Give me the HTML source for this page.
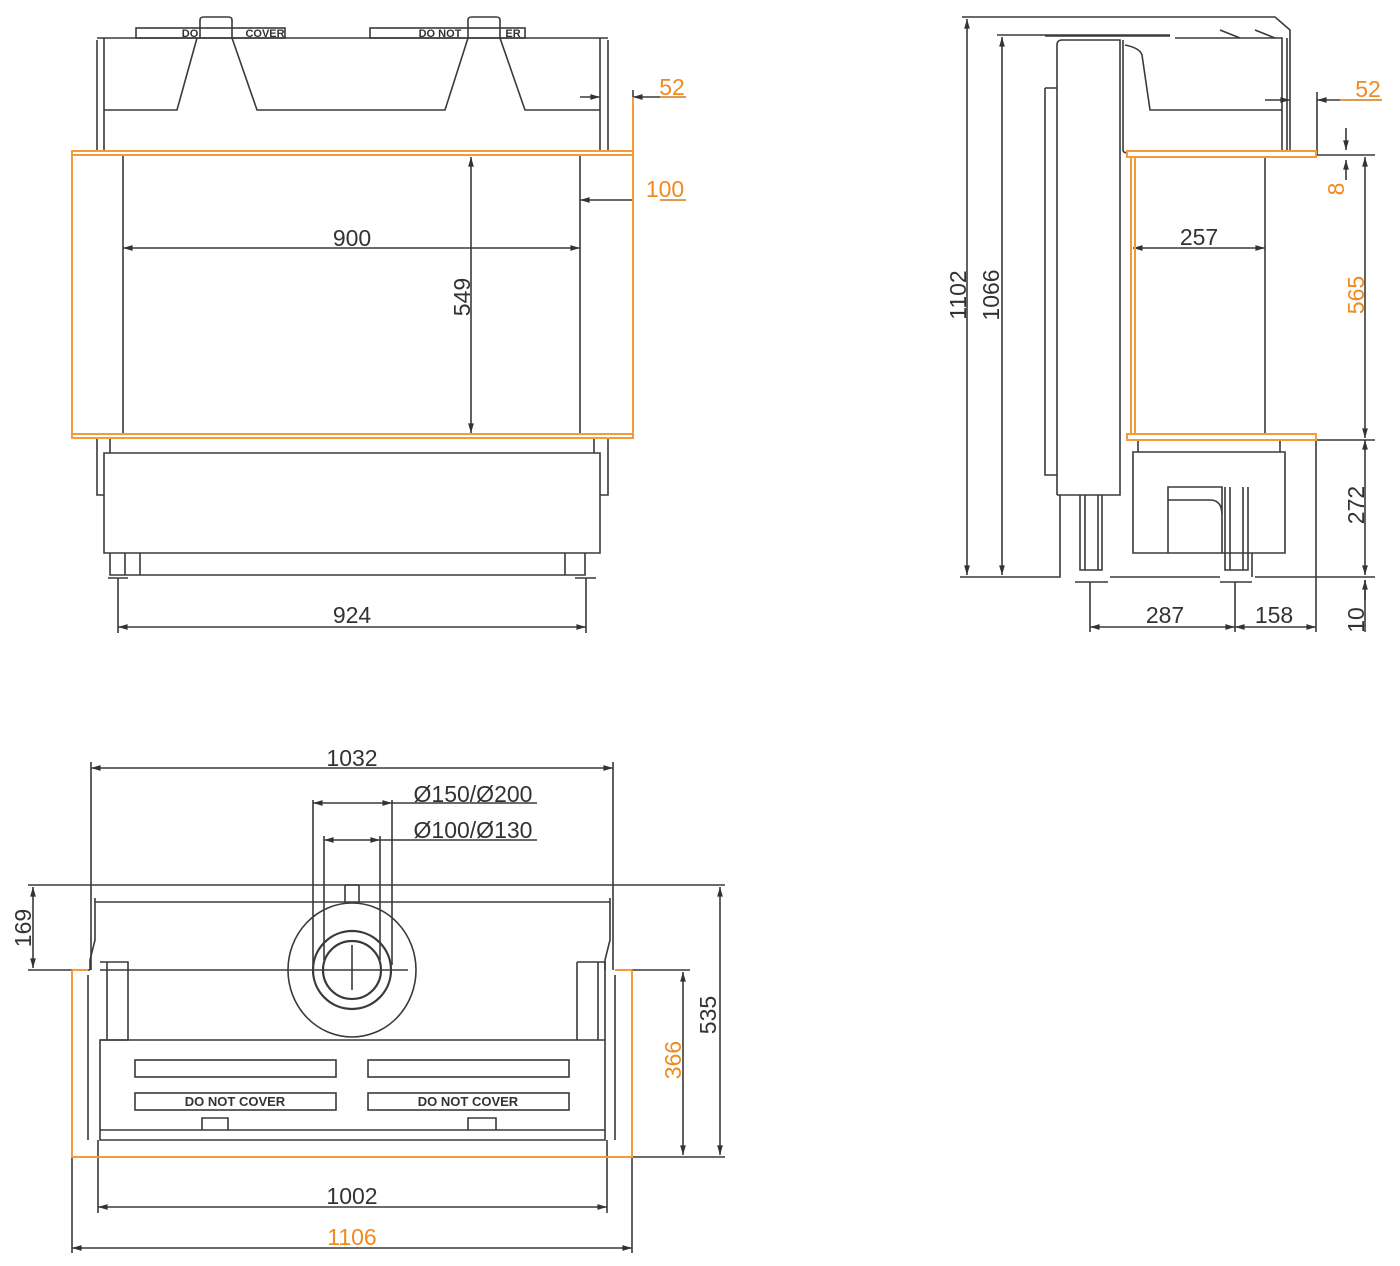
<!DOCTYPE html>
<html><head><meta charset="utf-8"><style>
html,body{margin:0;padding:0;background:#fff}
svg{display:block}
text{font-family:"Liberation Sans",sans-serif;font-size:23px;fill:#333}
.o{fill:#f08a1c}
</style></head><body>
<svg width="1400" height="1266" viewBox="0 0 1400 1266" xmlns="http://www.w3.org/2000/svg">
<defs>
<marker id="a" viewBox="0 0 10 10" refX="10" refY="5" markerWidth="9" markerHeight="6" orient="auto-start-reverse"><path d="M0,2L10,5L0,8z" fill="#333"/></marker>
</defs>
<g fill="none" stroke="#3a3a3a" stroke-width="1.6">
<!-- FRONT VIEW -->
<rect x="136" y="28" width="149" height="10"/><rect x="370" y="28" width="155" height="10"/>
<path d="M200,38V20Q200,17 204,17H228Q232,17 232,20V38"/><path d="M468,38V20Q468,17 472,17H496Q500,17 500,20V38"/>
<path d="M97,40V150M104,38V150M600,38V150M608,40V150M97,38H608"/>
<path d="M104,110H177L197,38M232,38L257,110H445L468,38M500,38L525,110H600"/>
<path d="M123,155V433M580,155V433"/>
<path d="M97,438V495H104M608,438V495H600M104,453H600V553H104Z M110,438V453M594,438V453"/>
<path d="M110,553V575H585V553M125,553V575M140,553V575M565,553V575M108,578H128M575,578H596"/>
<!-- dims front -->
<path d="M123,248H580" marker-start="url(#a)" marker-end="url(#a)"/>
<path d="M471,157V433" marker-start="url(#a)" marker-end="url(#a)"/>
<path d="M580,200H633" marker-start="url(#a)"/>
<path d="M580,97H600" marker-end="url(#a)"/><path d="M660,97H633" marker-end="url(#a)"/><path d="M633,90V150M660,97H686"/>
<path d="M660,200H686"/>
<path d="M118,578V633M586,578V633"/>
<path d="M118,627H586" marker-start="url(#a)" marker-end="url(#a)"/>
<!-- SIDE VIEW -->
<path d="M962,17H1275L1290,30V150M997,35H1170M1045,36H1170"/>
<path d="M1057,495V45Q1057,40 1062,40H1120V495H1057M1045,88H1057M1045,88V475H1057"/>
<path d="M1123,40V150Q1123,153 1128,153M1125,45Q1140,48 1142,55L1150,110H1282V150M1175,38H1282V112M1287,38V150M1220,30L1240,38M1255,30L1275,38"/>
<path d="M1265,157V433"/>
<path d="M1138,440V452M1280,440V452M1133,452H1285V553H1133Z M1168,487H1222V553H1168Z M1168,500H1210Q1222,500 1222,515"/>
<path d="M1080,495V570H1102V495M1085,495V570M1098,495V570M1225,487V570H1248V487M1230,487V570M1243,487V570"/>
<path d="M960,577H1060V495M1110,577H1220M1255,577H1375M1252,553V577M1075,582H1108M1220,582H1252"/>
<!-- dims side -->
<path d="M967,19V575" marker-start="url(#a)" marker-end="url(#a)"/>
<path d="M1002,37V575" marker-start="url(#a)" marker-end="url(#a)"/>
<path d="M1133,248H1265" marker-start="url(#a)" marker-end="url(#a)"/>
<path d="M1265,100H1290" marker-end="url(#a)"/><path d="M1340,100H1317" marker-end="url(#a)"/><path d="M1317,92V155M1340,100H1382"/>
<path d="M1317,155H1375M1317,440H1375"/>
<path d="M1346,128V150" marker-end="url(#a)"/><path d="M1346,180V160" marker-end="url(#a)"/>
<path d="M1365,157V438" marker-start="url(#a)" marker-end="url(#a)"/>
<path d="M1365,440V575" marker-start="url(#a)" marker-end="url(#a)"/>
<path d="M1365,600V580" marker-end="url(#a)"/><path d="M1365,580V632"/>
<path d="M1316,440V632M1090,582V632M1235,582V632"/>
<path d="M1090,627H1235" marker-start="url(#a)" marker-end="url(#a)"/>
<path d="M1235,627H1316" marker-start="url(#a)" marker-end="url(#a)"/>
<!-- BOTTOM VIEW -->
<path d="M91,762V970M613,762V970"/>
<path d="M91,768H613" marker-start="url(#a)" marker-end="url(#a)"/>
<path d="M313,803H392" marker-start="url(#a)" marker-end="url(#a)"/><path d="M392,803H537"/>
<path d="M324,840H380" marker-start="url(#a)" marker-end="url(#a)"/><path d="M380,840H537"/>
<path d="M313,800V965M392,800V965M324,836V960M380,836V960"/>
<path d="M28,885H725M28,970H90M100,970H408"/>
<path d="M33,887V968" marker-start="url(#a)" marker-end="url(#a)"/>
<path d="M95,898V940L90,960V970M95,902H610M610,898V940L605,960V970"/>
<path d="M345,885V902M359,885V902M345,885H359"/>
<ellipse cx="352" cy="970" rx="64" ry="67"/>
<circle cx="352" cy="970" r="39" stroke-width="2.2"/><circle cx="352" cy="970" r="29" stroke-width="2.2"/>
<path d="M352,945V990"/>
<path d="M100,962H128V1040H100M107,962V1040M577,962H605V1040M577,962V1040M598,962V1040"/>
<path d="M88,975V1140M615,975V1140"/>
<path d="M100,1040H605V1130H100Z"/>
<rect x="135" y="1060" width="201" height="17"/><rect x="368" y="1060" width="201" height="17"/>
<rect x="135" y="1093" width="201" height="17"/><rect x="368" y="1093" width="201" height="17"/>
<path d="M202,1130V1118H228V1130M468,1130V1118H496V1130"/>
<path d="M100,1130V1140H605V1130"/>
<path d="M98,1140V1213M607,1140V1213"/>
<path d="M98,1207H607" marker-start="url(#a)" marker-end="url(#a)"/>
<path d="M72,1157V1253M632,1157V1253"/>
<path d="M72,1248H632" marker-start="url(#a)" marker-end="url(#a)"/>
<path d="M632,970H690M632,1157H725"/>
<path d="M683,972V1155" marker-start="url(#a)" marker-end="url(#a)"/>
<path d="M720,887V1155" marker-start="url(#a)" marker-end="url(#a)"/>
</g>
<!-- orange -->
<g fill="none" stroke="#f39a3a" stroke-width="2">
<rect x="72" y="151" width="561" height="287"/>
<path d="M72,155H633M72,434H633"/>
<path d="M1127,151H1316V157H1127ZM1127,434H1316V440H1127ZM1131,157V434M1135,157V434"/>
<path d="M72,970V1157H632V970M72,970H88M615,970H632"/>
<path d="M633,97V150"/>
</g>
<g stroke="#f39a3a" stroke-width="1.6" fill="none"><path d="M660,97H686M660,200H686M1340,100H1382"/></g>
<!-- texts -->
<text x="352" y="246" text-anchor="middle">900</text>
<text transform="translate(470,297) rotate(-90)" text-anchor="middle">549</text>
<text x="352" y="623" text-anchor="middle">924</text>
<text x="672" y="95" text-anchor="middle" class="o">52</text>
<text x="665" y="197" text-anchor="middle" class="o">100</text>
<text transform="translate(966,295) rotate(-90)" text-anchor="middle">1102</text>
<text transform="translate(999,295) rotate(-90)" text-anchor="middle">1066</text>
<text x="1199" y="245" text-anchor="middle">257</text>
<text x="1368" y="97" text-anchor="middle" class="o">52</text>
<text transform="translate(1344,189) rotate(-90)" text-anchor="middle" class="o">8</text>
<text transform="translate(1364,295) rotate(-90)" text-anchor="middle" class="o">565</text>
<text transform="translate(1364,505) rotate(-90)" text-anchor="middle">272</text>
<text transform="translate(1364,620) rotate(-90)" text-anchor="middle">10</text>
<text x="1165" y="623" text-anchor="middle">287</text>
<text x="1274" y="623" text-anchor="middle">158</text>
<text x="352" y="766" text-anchor="middle">1032</text>
<text x="473" y="802" text-anchor="middle">Ø150/Ø200</text>
<text x="473" y="838" text-anchor="middle">Ø100/Ø130</text>
<text transform="translate(31,928) rotate(-90)" text-anchor="middle">169</text>
<text transform="translate(716,1015) rotate(-90)" text-anchor="middle">535</text>
<text transform="translate(681,1060) rotate(-90)" text-anchor="middle" class="o">366</text>
<text x="352" y="1204" text-anchor="middle">1002</text>
<text x="352" y="1245" text-anchor="middle" class="o">1106</text>
<g style="font-size:13px;font-weight:bold">
<text x="235" y="1106" text-anchor="middle" style="font-size:13px;font-weight:bold">DO NOT COVER</text>
<text x="468" y="1106" text-anchor="middle" style="font-size:13px;font-weight:bold">DO NOT COVER</text>
<text x="265" y="37" text-anchor="middle" style="font-size:11px;font-weight:bold">COVER</text>
<text x="190" y="37" text-anchor="middle" style="font-size:11px;font-weight:bold">DO</text>
<text x="440" y="37" text-anchor="middle" style="font-size:11px;font-weight:bold">DO NOT</text>
<text x="513" y="37" text-anchor="middle" style="font-size:11px;font-weight:bold">ER</text>
</g>
</svg>
</body></html>
